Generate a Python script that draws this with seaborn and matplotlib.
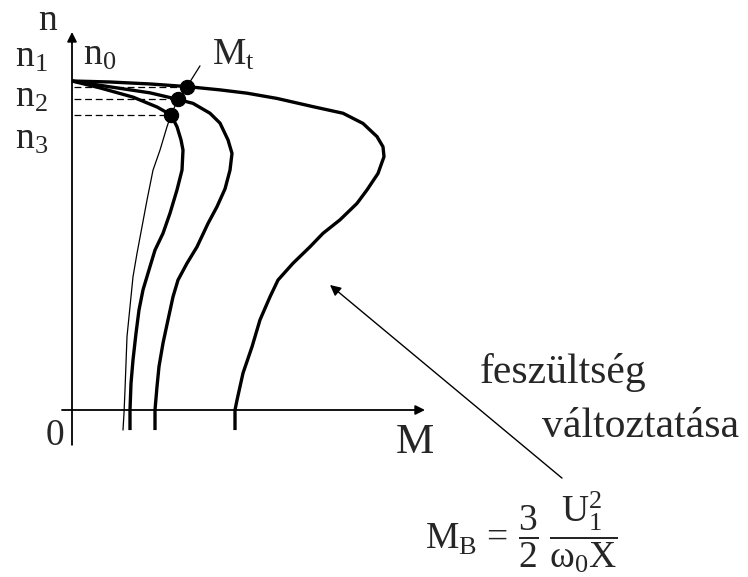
import matplotlib
matplotlib.use("Agg")
import matplotlib.pyplot as plt
import seaborn as sns
import pandas as pd

# Torque-speed characteristics of an induction motor at three supply voltages
# (M: torque, n: speed, n0 = 1 is the synchronous speed)
M_u1 = [0.0, 0.38, 0.78, 1.15, 1.48, 1.75, 2.05, 2.41, 2.71, 2.91, 3.05, 3.11, 3.12,
        3.06, 2.95, 2.85, 2.68, 2.51, 2.38, 2.21, 2.06, 1.98, 1.88, 1.80, 1.71, 1.65,
        1.63, 1.63]
n_u1 = [1.000, 0.997, 0.991, 0.983, 0.973, 0.963, 0.947, 0.922, 0.902, 0.871, 0.831,
        0.800, 0.770, 0.719, 0.669, 0.628, 0.578, 0.537, 0.496, 0.446, 0.395, 0.344,
        0.274, 0.192, 0.112, 0.030, 0.000, -0.061]

M_u2 = [0.0, 0.45, 0.78, 1.06, 1.21, 1.38, 1.48, 1.56, 1.60, 1.58, 1.53, 1.45, 1.36,
        1.25, 1.15, 1.06, 1.01, 0.96, 0.91, 0.87, 0.85, 0.83, 0.83]
n_u2 = [1.000, 0.979, 0.964, 0.944, 0.932, 0.902, 0.872, 0.821, 0.780, 0.729, 0.672,
        0.618, 0.567, 0.496, 0.446, 0.395, 0.344, 0.274, 0.203, 0.132, 0.071, 0.000,
        -0.061]

M_u3 = [0.0, 0.28, 0.61, 0.85, 0.99, 1.05, 1.09, 1.11, 1.10, 1.05, 0.98, 0.91, 0.83,
        0.78, 0.71, 0.67, 0.64, 0.61, 0.59, 0.58, 0.58]
n_u3 = [1.000, 0.979, 0.951, 0.921, 0.897, 0.861, 0.821, 0.790, 0.729, 0.669, 0.598,
        0.537, 0.486, 0.436, 0.365, 0.304, 0.233, 0.152, 0.081, 0.000, -0.061]

# Load torque curve M_t
M_load = [1.28, 1.15, 1.06, 0.99, 0.95, 0.88, 0.81, 0.75, 0.70, 0.65, 0.61, 0.58,
          0.55, 0.54, 0.53, 0.52, 0.51]
n_load = [1.046, 0.983, 0.944, 0.897, 0.861, 0.790, 0.729, 0.638, 0.557, 0.476, 0.405,
          0.314, 0.223, 0.142, 0.061, -0.010, -0.061]

# Operating points (motor curve x load curve) and their speeds n1, n2, n3
M_op = [1.15, 1.06, 0.99]
n_op = [0.983, 0.944, 0.897]
speed_labels = [r"$\mathrm{n}_1$", r"$\mathrm{n}_2$", r"$\mathrm{n}_3$"]

sns.set_style("white")
plt.rcParams["font.family"] = ["Liberation Serif", "DejaVu Serif"]
plt.rcParams["mathtext.fontset"] = "custom"
plt.rcParams["mathtext.rm"] = "Liberation Serif"
plt.rcParams["mathtext.it"] = "Liberation Serif:italic"
plt.rcParams["mathtext.bf"] = "Liberation Serif:bold"

fig = plt.figure(figsize=(7.48, 5.77), dpi=100)
ax = fig.add_axes([0, 0, 1, 1])

# Axes with arrowheads
arrow_kw = dict(arrowstyle="-|>", lw=1.3, color="black", mutation_scale=14,
                shrinkA=0, shrinkB=0)
ax.annotate("", xy=(0, 1.149), xytext=(0, -0.106), arrowprops=arrow_kw)
ax.annotate("", xy=(3.53, 0), xytext=(-0.10, 0), arrowprops=arrow_kw)

# Dashed speed levels
for m, n in zip(M_op, n_op):
    ax.plot([0.02, m], [n, n], color="black", lw=0.9, dashes=(5.5, 3.0), zorder=1)

# Motor characteristics
curves = pd.concat([
    pd.DataFrame({"M": M_u1, "n": n_u1, "U": "U1"}),
    pd.DataFrame({"M": M_u2, "n": n_u2, "U": "U2"}),
    pd.DataFrame({"M": M_u3, "n": n_u3, "U": "U3"}),
])
for name, grp in curves.groupby("U"):
    sns.lineplot(data=grp, x="M", y="n", sort=False, estimator=None,
                 color="black", lw=2.4, ax=ax, zorder=3,
                 solid_joinstyle="round", solid_capstyle="butt")

# Load curve
sns.lineplot(x=M_load, y=n_load, sort=False, estimator=None,
             color="black", lw=0.9, ax=ax, zorder=2, solid_joinstyle="round")

# Operating points
sns.scatterplot(x=M_op, y=n_op, s=105, color="black", edgecolor="black",
                ax=ax, zorder=4, legend=False)

ax.set_xlim(-0.72, 6.76)
ax.set_ylim(-0.5076, 1.2462)
ax.axis("off")

# Labels
fs = 27
ax.text(-0.245, 1.155, "n", fontsize=fs, ha="center", va="baseline")
ax.text(0.11, 1.049, r"$\mathrm{n}_0$", fontsize=fs, ha="left", va="baseline")
for lab, yb in zip(speed_labels, [1.043, 0.921, 0.796]):
    ax.text(-0.57, yb, lab, fontsize=fs, ha="left", va="baseline")
ax.text(1.40, 1.049, r"$\mathrm{M}_\mathrm{t}$", fontsize=fs, ha="left", va="baseline")
ax.text(-0.17, -0.106, "0", fontsize=fs, ha="center", va="baseline")
ax.text(3.43, -0.131, "M", fontsize=31, ha="center", va="baseline")

ax.text(4.08, 0.082, "feszültség", fontsize=30, ha="left", va="baseline")
ax.text(4.70, -0.082, "változtatása", fontsize=30, ha="left", va="baseline")

ax.annotate("", xy=(2.58, 0.380), xytext=(4.90, -0.207),
            arrowprops=dict(arrowstyle="-|>", lw=1.0, color="black",
                            mutation_scale=16, shrinkA=0, shrinkB=0))

ax.text(3.53, -0.370,
        r"$\mathrm{M_B}\,=\,\dfrac{3}{2}\;\dfrac{\mathrm{U_1^2}}{\mathrm{\omega_0 X}}$",
        fontsize=27, ha="left", va="center")

fig.savefig("out.png", dpi=100)
